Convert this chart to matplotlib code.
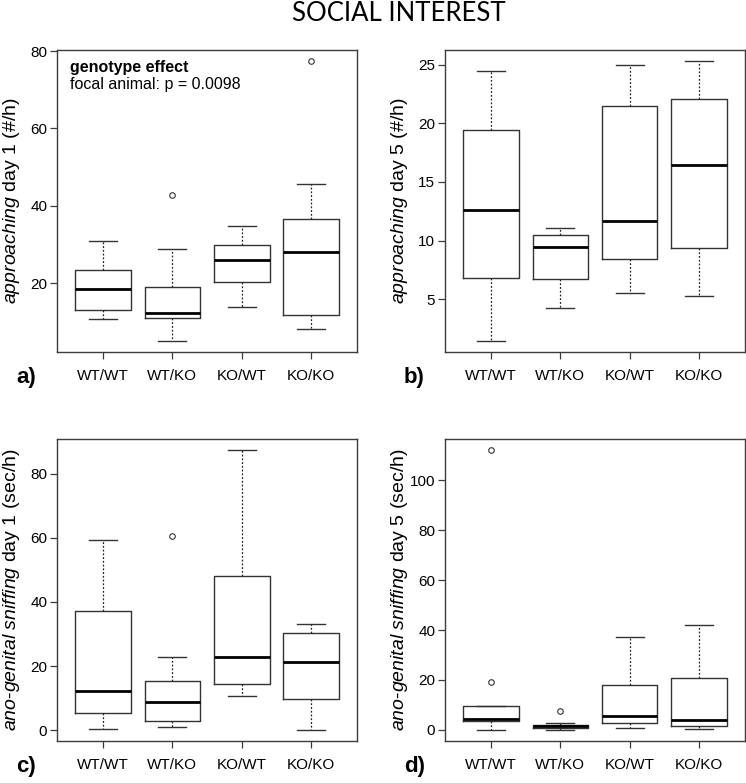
import matplotlib
matplotlib.use("Agg")
import matplotlib.pyplot as plt

plt.rcParams['font.family'] = ['Liberation Sans', 'DejaVu Sans']
plt.rcParams['mathtext.fontset'] = 'custom'
plt.rcParams['mathtext.rm'] = 'Liberation Sans'
plt.rcParams['mathtext.it'] = 'Liberation Sans:italic'
plt.rcParams['mathtext.bf'] = 'Liberation Sans:bold'

groups = ["WT/WT", "WT/KO", "KO/WT", "KO/KO"]

# panel a: approaching day 1
a_whislo = [10.7, 5.1, 13.8, 8.2]
a_q1 = [13.1, 10.9, 20.4, 11.9]
a_med = [18.6, 12.4, 26.0, 28.0]
a_q3 = [23.4, 18.9, 29.9, 36.5]
a_whishi = [30.9, 28.9, 34.9, 45.7]
a_fliers = [[], [42.8], [], [77.4]]
a_ticks = [20, 40, 60, 80]

# panel b: approaching day 5
b_whislo = [1.45, 4.23, 5.51, 5.23]
b_q1 = [6.8, 6.73, 8.44, 9.35]
b_med = [12.6, 9.43, 11.65, 16.48]
b_q3 = [19.4, 10.5, 21.45, 22.1]
b_whishi = [24.5, 11.1, 25.0, 25.3]
b_fliers = [[], [], [], []]
b_ticks = [5, 10, 15, 20, 25]

# panel c: ano-genital sniffing day 1
c_whislo = [0.3, 0.9, 10.7, 0.1]
c_q1 = [5.4, 2.7, 14.5, 9.6]
c_med = [12.1, 8.7, 22.9, 21.3]
c_q3 = [37.2, 15.4, 48.0, 30.4]
c_whishi = [59.4, 22.9, 87.3, 33.2]
c_fliers = [[], [60.4], [], []]
c_ticks = [0, 20, 40, 60, 80]

# panel d: ano-genital sniffing day 5
d_whislo = [0.1, 0.0, 0.8, 0.3]
d_q1 = [3.7, 0.7, 2.9, 1.7]
d_med = [4.5, 1.5, 5.7, 4.1]
d_q3 = [9.5, 1.9, 18.0, 20.7]
d_whishi = [9.5, 2.8, 37.1, 42.1]
d_fliers = [[112.1, 19.1], [7.7], [], []]
d_ticks = [0, 20, 40, 60, 80, 100]

panels = [
    ("a)", r"$\mathit{approaching}$ day 1 (#/h)", a_whislo, a_q1, a_med, a_q3, a_whishi, a_fliers, a_ticks),
    ("b)", r"$\mathit{approaching}$ day 5 (#/h)", b_whislo, b_q1, b_med, b_q3, b_whishi, b_fliers, b_ticks),
    ("c)", r"$\mathit{ano}$-$\mathit{genital}$ $\mathit{sniffing}$ day 1 (sec/h)", c_whislo, c_q1, c_med, c_q3, c_whishi, c_fliers, c_ticks),
    ("d)", r"$\mathit{ano}$-$\mathit{genital}$ $\mathit{sniffing}$ day 5 (sec/h)", d_whislo, d_q1, d_med, d_q3, d_whishi, d_fliers, d_ticks),
]

W, H = 746, 783
fig = plt.figure(figsize=(W / 100, H / 100), dpi=100)

rects = [(57, 50), (445, 50), (57, 439), (445, 439)]
aw, ah = 300, 302
label_pos = [(16, 383), (404, 383), (16, 772), (404, 772)]

framecol = '#3c3c3c'
boxcol = '#333333'

for (lab, ylab, wl, q1, med, q3, wh, fl, ticks), (x0, y0), (lx, ly) in zip(panels, rects, label_pos):
    ax = fig.add_axes([x0 / W, 1 - (y0 + ah) / H, aw / W, ah / H])
    stats = []
    for i in range(len(groups)):
        stats.append(dict(med=med[i], q1=q1[i], q3=q3[i], whislo=wl[i], whishi=wh[i],
                          fliers=fl[i], label=groups[i]))
    ax.bxp(stats, positions=[1, 2, 3, 4], widths=0.8, capwidths=0.4, showfliers=True,
           boxprops=dict(color=boxcol, linewidth=1.0),
           medianprops=dict(color='black', linewidth=2.0),
           whiskerprops=dict(color='#222222', linewidth=0.9, linestyle=(0, (1.5, 1.5))),
           capprops=dict(color=boxcol, linewidth=1.0),
           flierprops=dict(marker='o', markersize=4, markerfacecolor='none',
                           markeredgecolor='#333333', markeredgewidth=0.8))
    allv = wl + wh + [v for f in fl for v in f]
    lo, hi = min(allv), max(allv)
    pad = 0.04 * (hi - lo)
    ax.set_ylim(lo - pad, hi + pad)
    ax.set_xlim(0.34, 4.66)
    ax.set_yticks(ticks)
    ax.set_yticklabels([str(t) for t in ticks])
    ax.set_xticks([1, 2, 3, 4])
    ax.set_xticklabels(groups)
    ax.tick_params(axis='y', labelsize=11, length=5, width=0.9, pad=2, color=framecol)
    ax.tick_params(axis='x', labelsize=11, length=5, width=0.9, pad=7, color=framecol)
    for s in ax.spines.values():
        s.set_color(framecol)
        s.set_linewidth(1.0)
    ax.set_ylabel(ylab, fontsize=14)
    ax.yaxis.set_label_coords(-0.116, 0.5)
    fig.text(lx / W, 1 - ly / H, lab, fontsize=16, fontweight='bold', ha='left', va='baseline')
    if lab == "a)":
        ax.text(0.043, 0.927, "genotype effect", transform=ax.transAxes, fontsize=11.5,
                fontweight='bold', ha='left', va='baseline')
        ax.text(0.043, 0.871, "focal animal: p = 0.0098", transform=ax.transAxes, fontsize=11.5,
                ha='left', va='baseline')

fig.text(399 / W, 1 - 21 / H, "SOCIAL INTEREST", fontsize=18.5, family=['Lato', 'DejaVu Sans'],
         ha='center', va='baseline')

fig.savefig("out.png", dpi=100)
